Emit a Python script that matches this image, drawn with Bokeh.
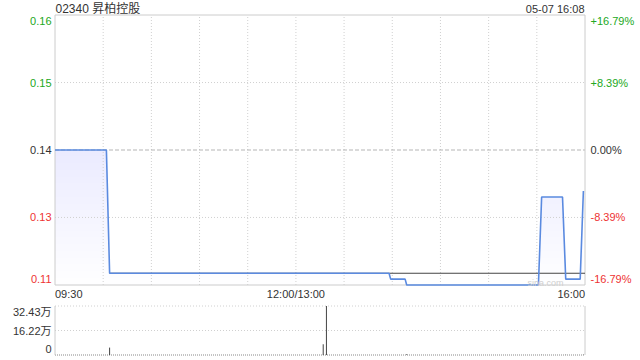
from bokeh.plotting import figure
from bokeh.models import Range1d, Label
from bokeh.embed import file_html
from bokeh.resources import INLINE

# ---------------- data ----------------
title_text = "02340 昇柏控股"
stamp_text = "05-07 16:08"
watermark = "sina.com"
prev_close = 0.137
pct_levels = [0.1679, 0.0839, 0.0, -0.0839, -0.1679]
price_labels = ["0.16", "0.15", "0.14", "0.13", "0.11"]
pct_labels = ["+16.79%", "+8.39%", "0.00%", "-8.39%", "-16.79%"]
time_labels = ["09:30", "12:00/13:00", "16:00"]
time_label_pos = [0, 150, 330]
total_minutes = 330

price_t = [0, 32, 34, 208, 209, 218, 219, 301, 303, 316, 318, 327, 329]
price_v = [0.137, 0.137, 0.116, 0.116, 0.115, 0.115, 0.114, 0.114, 0.129, 0.129, 0.115, 0.115, 0.130]
avg_t = [34, 330]
avg_v = [0.116, 0.116]

vol_t = [34, 167, 169, 219, 303, 318, 329]
vol_v = [49000, 71000, 324300, 5000, 1200, 1200, 1500]
vol_max = 324300
vol_ticks = [324300, 162150, 0]
vol_labels = ["32.43万", "16.22万", "0"]

# ---------------- layout (pixels) ----------------
W, H = 640, 360
X0, X1 = 54.5, 584.5
PT, PB = 14.5, 284.5
VT, VB = 305.5, 354.5

lo = prev_close * (1 + pct_levels[-1])
hi = prev_close * (1 + pct_levels[0])


def xd(px):
    return (px - X0) / (X1 - X0) * total_minutes


def yp(px):
    return lo + (PB - px) / (PB - PT) * (hi - lo)


def yv(px):
    return (VB - px) / (VB - VT) * vol_max


GREEN = "#22a822"
RED = "#ee3333"
DARK = "#333333"
FONT = "Liberation Sans"
CJK = "Liberation Sans, Noto Sans CJK SC"

p = figure(width=W, height=H, x_range=Range1d(xd(0), xd(W)),
           y_range=Range1d(yp(H), yp(0)), output_backend="svg",
           toolbar_location=None, x_axis_location=None, y_axis_location=None,
           min_border=0)
p.extra_y_ranges = {"vol": Range1d(yv(H), yv(0))}
p.grid.visible = False
p.outline_line_color = None
p.background_fill_color = "white"
p.border_fill_color = "white"

# gradient fill under price line (stacked translucent layers)
N = 40
for k in range(N):
    lvl = lo + (hi - lo) * k / N
    p.varea(x=price_t, y1=[lvl] * len(price_t), y2=[max(v, lvl) for v in price_v],
            fill_color="#3d78e0", fill_alpha=0.0058)

# grids
grid_t = list(range(30, total_minutes, 30))
p.segment(x0=grid_t, x1=grid_t, y0=lo, y1=hi, line_color="#d0d0d0", line_width=1, line_dash="1 2")
for pc in pct_levels[1:-1]:
    v = prev_close * (1 + pc)
    if pc == 0:
        p.segment(x0=0, x1=total_minutes, y0=v, y1=v, line_color="#b5b5b5", line_width=1, line_dash="4 2")
    else:
        p.segment(x0=0, x1=total_minutes, y0=v, y1=v, line_color="#d0d0d0", line_width=1, line_dash="1 2")

# price frame
p.segment(x0=[0, 0, 0, total_minutes], x1=[total_minutes, total_minutes, 0, total_minutes],
          y0=[hi, lo, lo, lo], y1=[hi, lo, hi, hi], line_color="#cccccc", line_width=1)

# volume frame / grid
p.segment(x0=[0, 0], x1=[total_minutes, total_minutes], y0=vol_ticks[:2], y1=vol_ticks[:2],
          y_range_name="vol", line_color="#d0d0d0", line_width=1, line_dash="1 2")
p.segment(x0=0, x1=total_minutes, y0=0, y1=0, y_range_name="vol",
          line_color="#888888", line_width=1, line_dash="1 1")
p.segment(x0=[0, total_minutes], x1=[0, total_minutes], y0=0, y1=vol_max,
          y_range_name="vol", line_color="#cccccc", line_width=1)

# volume bars
p.segment(x0=vol_t, x1=vol_t, y0=0, y1=vol_v, y_range_name="vol",
          line_color="#444444", line_width=1)

# average and price lines
p.line(avg_t, avg_v, line_color="#444444", line_width=1.2)
p.line(price_t, price_v, line_color="#5a8ae0", line_width=1.6)


def add_label(x, y, text, color=DARK, align="left", size="11px", font=FONT,
              yr="default", yoff=0, baseline="middle"):
    p.add_layout(Label(x=x, y=y, text=text, text_color=color, text_align=align,
                       text_baseline=baseline, text_font_size=size, text_font=font,
                       y_range_name=yr, y_offset=yoff))


n = len(pct_levels)
for i, (pc, lp, lr) in enumerate(zip(pct_levels, price_labels, pct_labels)):
    col = GREEN if pc > 0 else (RED if pc < 0 else DARK)
    yoff = -6 if i == 0 else (6 if i == n - 1 else 0)
    v = prev_close * (1 + pc)
    add_label(xd(51), v, lp, color=col, align="right", yoff=yoff)
    add_label(xd(590), v, lr, color=col, align="left", yoff=yoff)

for i, (vt, vl) in enumerate(zip(vol_ticks, vol_labels)):
    yoff = -6 if i == 0 else (6 if i == len(vol_ticks) - 1 else 0)
    add_label(xd(51), vt, vl, align="right", yr="vol", yoff=yoff, font=CJK)

aligns = ["left", "center", "right"]
for t, lab, al in zip(time_label_pos, time_labels, aligns):
    add_label(t, yp(293.5), lab, align=al)

add_label(xd(55), yp(8), title_text, size="12px", font=CJK)
add_label(xd(584), yp(8), stamp_text, align="right")
add_label(xd(563), yp(282.5), watermark, color="#cfcfcf", align="right", size="9px",
          baseline="alphabetic")

open("out.html", "w").write(file_html(p, INLINE))
